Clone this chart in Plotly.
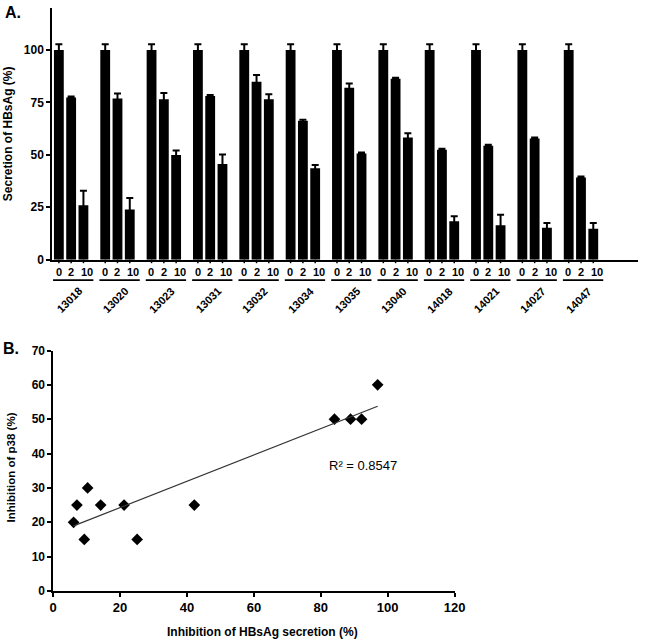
import numpy as np
import plotly.graph_objects as go

# ---------------- data ----------------
samples = ["13018", "13020", "13023", "13031", "13032", "13034",
           "13035", "13040", "14018", "14021", "14027", "14047"]
doses = ["0", "2", "10"]
secretion_0 = [100, 100, 100, 100, 100, 100, 100, 100, 100, 100, 100, 100]
secretion_2 = [77.3, 76.9, 76.5, 78.0, 84.8, 66.2, 82.0, 86.3, 52.4, 54.3, 57.8, 39.2]
secretion_10 = [25.9, 23.9, 49.9, 45.6, 76.5, 43.6, 50.6, 58.3, 18.3, 16.4, 15.2, 14.8]
err_0 = [2.7, 2.7, 2.7, 2.7, 2.7, 2.7, 2.7, 2.7, 2.7, 2.7, 2.7, 2.7]
err_2 = [0.5, 2.3, 3.0, 0.5, 3.2, 0.5, 2.0, 0.5, 0.5, 0.5, 0.5, 0.5]
err_10 = [7.0, 5.5, 2.2, 4.6, 2.4, 1.6, 0.5, 2.0, 2.4, 5.0, 2.3, 2.7]

hbsag_inhibition = [6.1, 7.1, 9.3, 10.3, 14.2, 21.2, 25.1, 42.2, 84.1, 88.9, 92.2, 97.0]
p38_inhibition = [20, 25, 15, 30, 25, 25, 15, 25, 50, 50, 50, 60]
r2_label = "R² = 0.8547"

# ---------------- style ----------------
FONT = "Liberation Sans"
BGAP = 0.205
BGGAP = 0.2
slot = (1 - BGAP) / 3
TOP_DOM = [0.5683, 1.0]
PLOT_H = 639 - 5 - 48


def px_to_paper(ypx):
    return (639 - 48 - ypx) / PLOT_H


fig = go.Figure()

for vals, errs, name in [(secretion_0, err_0, "0"), (secretion_2, err_2, "2"),
                         (secretion_10, err_10, "10")]:
    fig.add_trace(go.Bar(
        x=samples, y=vals, name=name, marker=dict(color="black", line=dict(width=0)),
        error_y=dict(type="data", array=errs, symmetric=True, color="black",
                     thickness=2, width=3.5),
        xaxis="x", yaxis="y", showlegend=False))

# scatter + trend line
fig.add_trace(go.Scatter(
    x=hbsag_inhibition, y=p38_inhibition, mode="markers",
    marker=dict(symbol="diamond", size=9, color="black"),
    xaxis="x2", yaxis="y2", showlegend=False))
slope, icpt = np.polyfit(hbsag_inhibition, p38_inhibition, 1)
xl = np.array([min(hbsag_inhibition), max(hbsag_inhibition)])
fig.add_trace(go.Scatter(
    x=xl, y=slope * xl + icpt, mode="lines",
    line=dict(color="#333333", width=1.2),
    xaxis="x2", yaxis="y2", showlegend=False))

annotations = []
shapes = []
dose_shift = [-12.5, 0, 16]
axis_y = TOP_DOM[0]
for i, s in enumerate(samples):
    for k, d in enumerate(doses):
        annotations.append(dict(
            x=i, y=px_to_paper(270), xref="x", yref="paper", text=d, showarrow=False,
            xanchor="center", yanchor="middle", xshift=dose_shift[k],
            font=dict(family=FONT, size=11, color="black", weight="bold")))
        shapes.append(dict(
            type="line", xref="x", yref="paper", x0=i + (k - 1) * slot, x1=i + (k - 1) * slot,
            y0=axis_y, y1=px_to_paper(261.5),
            line=dict(color="black", width=1.5)))
    shapes.append(dict(
        type="line", xref="x", yref="paper", x0=i - 0.39, x1=i + 0.48,
        y0=px_to_paper(278.5), y1=px_to_paper(278.5),
        line=dict(color="black", width=1.8)))
    annotations.append(dict(
        x=i, y=px_to_paper(280), xref="x", yref="paper", text=s, showarrow=False,
        textangle=-45, xanchor="right", yanchor="top", xshift=16,
        font=dict(family=FONT, size=11, color="black", weight="bold")))

# titles / panel labels
annotations += [
    dict(x=-0.0737, y=0.785, xref="paper", yref="paper", text="Secretion of HBsAg (%)",
         textangle=-90, showarrow=False, xanchor="center", yanchor="middle",
         font=dict(family=FONT, size=12, color="black", weight="bold")),
    dict(x=-0.0704, y=0.2116, xref="paper", yref="paper", text="Inhibition of p38 (%)",
         textangle=-90, showarrow=False, xanchor="center", yanchor="middle",
         font=dict(family=FONT, size=11.5, color="black", weight="bold")),
    dict(x=0.3585, y=-0.07, xref="paper", yref="paper", text="Inhibition of HBsAg secretion (%)",
         showarrow=False, xanchor="center", yanchor="middle",
         font=dict(family=FONT, size=12, color="black", weight="bold")),
    dict(x=-0.0838, y=0.9915, xref="paper", yref="paper", text="A.",
         showarrow=False, xanchor="left", yanchor="middle",
         font=dict(family=FONT, size=16, color="black", weight="bold")),
    dict(x=-0.0871, y=0.4164, xref="paper", yref="paper", text="B.",
         showarrow=False, xanchor="left", yanchor="middle",
         font=dict(family=FONT, size=16, color="black", weight="bold")),
    dict(x=81.8, y=36.4, xref="x2", yref="y2", text=r2_label, showarrow=False,
         xanchor="left", yanchor="middle",
         font=dict(family=FONT, size=13, color="black")),
]

axis_common = dict(showgrid=False, zeroline=False, showline=True, linecolor="black",
                   ticks="outside", tickcolor="black", ticklen=4, tickwidth=1.5)

fig.update_layout(
    width=650, height=639, autosize=False,
    margin=dict(l=52, r=1, t=5, b=48, pad=0),
    paper_bgcolor="white", plot_bgcolor="white",
    barmode="group", bargap=BGAP, bargroupgap=BGGAP,
    xaxis=dict(domain=[0, 1], type="category", range=[-0.413, 12.23],
               showgrid=False, zeroline=False, showline=True, linecolor="black",
               linewidth=1.5, ticks="", showticklabels=False, anchor="y"),
    yaxis=dict(domain=TOP_DOM, range=[0, 120], tickvals=[0, 25, 50, 75, 100],
               linewidth=1.5, anchor="x",
               tickfont=dict(family=FONT, size=12, color="black", weight="bold"),
               **axis_common),
    xaxis2=dict(domain=[0.002, 0.687], range=[0, 120], dtick=20, anchor="y2",
                linewidth=1.5,
                tickfont=dict(family=FONT, size=13, color="black", weight="bold"),
                **axis_common),
    yaxis2=dict(domain=[0, 0.4125], range=[0, 70], dtick=10, anchor="x2",
                linewidth=1.5,
                tickfont=dict(family=FONT, size=12, color="black", weight="bold"),
                **axis_common),
    annotations=annotations,
    shapes=shapes,
)

fig.write_html("out.html", config={"displayModeBar": False},
               post_script="document.body.style.margin='0px';")
